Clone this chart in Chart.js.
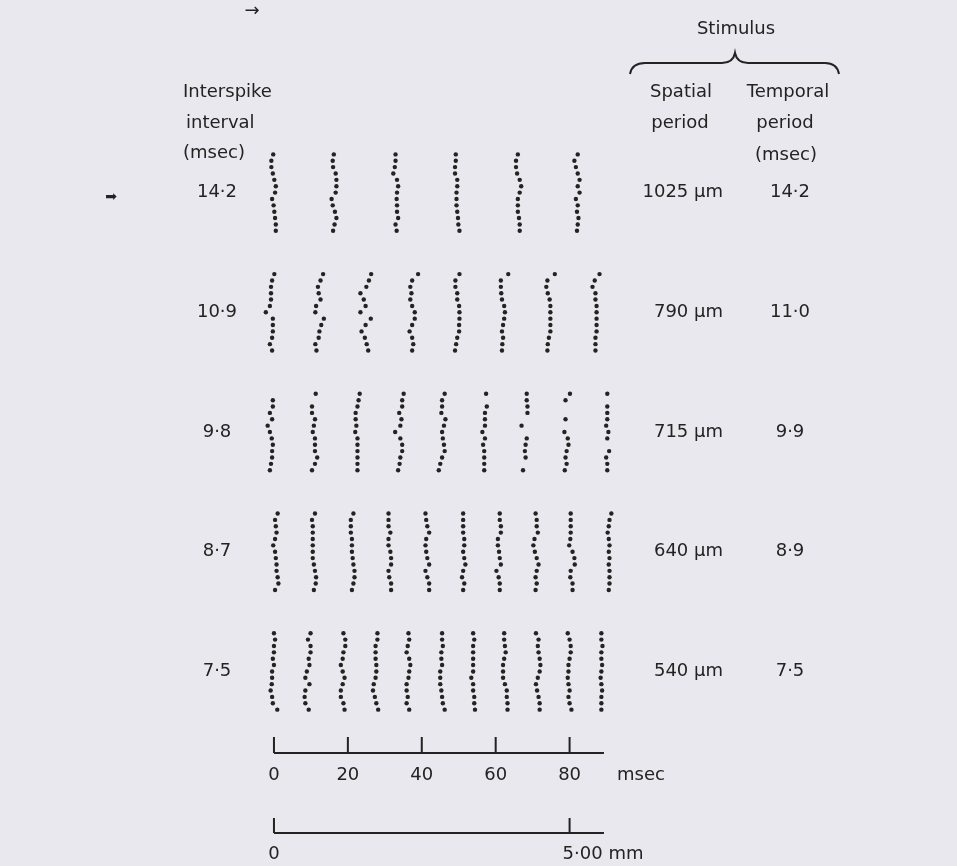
<!DOCTYPE html>
<html>
<head>
<meta charset="utf-8">
<title>Interspike interval raster</title>
<script src="https://cdn.jsdelivr.net/npm/chart.js@4/dist/chart.umd.min.js"></script>
<style>
    html, body { margin: 0; padding: 0; background: #e8e8ee; }
    #rasterChart { display: block; }
</style>
</head>
<body>
<canvas id="rasterChart" width="957" height="866"></canvas>
<script>
// Row labels (interspike interval, msec) and stimulus columns
const intervals = ['14·2', '10·9', '9·8', '8·7', '7·5'];
const spatialPeriods = ['1025 µm', '790 µm', '715 µm', '640 µm', '540 µm'];
const temporalPeriods = ['14·2', '11·0', '9·9', '8·9', '7·5'];

// Time scale bars
const msecTicks = [0, 20, 40, 60, 80];
const msecTickLabels = ['0', '20', '40', '60', '80'];
const mmTicks = [0, 80];
const mmTickLabels = ['0', '5·00 mm'];
const barEnd = 89.3;

// Spike columns: mean time (msec) of each burst column per row
const cols142 = [0.1, 16.2, 32.9, 49.6, 66.0, 82.2];
const cols109 = [-0.8, 12.1, 24.8, 37.4, 49.6, 62.0, 74.6, 87.3];
const cols98 = [-0.8, 10.8, 22.6, 34.2, 45.5, 57.1, 67.9, 79.2, 90.2];
const cols87 = [0.5, 10.8, 21.3, 31.0, 41.5, 51.2, 61.1, 71.1, 80.8, 90.8];
const cols75 = [0, 9.4, 18.6, 27.5, 36.4, 45.5, 53.9, 62.5, 71.4, 80.0, 88.6];

// Per-sweep jitter (msec) of each spike from its column time, 13 sweeps, null = no spike
const off142 = [
    [-0.3, -0.8, -0.8, -0.4, 0, 0.4, 0.2, -0.6, -0.2, 0, 0.2, 0.4, 0.4],
    [0, -0.3, -0.2, 0.5, 0.7, 0.7, 0.5, -0.6, -0.3, 0.3, 0.7, 0.2, -0.2],
    [0, 0, -0.2, -0.6, 0.4, 0.7, 0.4, 0.3, 0.4, 0.4, 0.7, 0, 0.3],
    [-0.4, -0.4, -0.6, -0.6, 0, 0, -0.2, -0.2, -0.2, 0, 0.2, 0.3, 0.6],
    [0, -0.5, -0.5, -0.2, 0.5, 0.9, 0.5, 0, 0, 0, 0.3, 0.5, 0.5],
    [0, -0.9, -0.5, 0, 0.5, 0, 0.5, -0.5, 0, -0.2, 0.2, 0, -0.2]
];
const off109 = [
    [0.9, 0.3, 0, 0, 0, -0.3, -1.4, 0.5, 0.5, 0.5, 0.3, -0.3, 0.3],
    [1.2, 0.5, -0.2, 0, 0.5, -0.7, -0.9, 1.4, 0.7, 0.2, 0, -0.9, -0.6],
    [1.5, 0.9, 0.2, -1.4, -0.5, 0, -1.4, 1.4, 0, -1.1, -0.2, 0.3, 0.7],
    [1.6, 0, -0.5, -0.2, -0.5, 0, 0.7, 0.7, 0, -0.7, 0, 0.3, 0],
    [0.6, -0.5, -0.5, 0, 0, 0.5, 0.6, 0.6, 0.5, 0.5, 0, -0.3, -0.6],
    [1.4, -0.6, -0.6, -0.5, -0.3, 0.3, 0.5, 0.3, 0, -0.3, 0, -0.2, -0.3],
    [1.4, -0.6, -0.9, -0.5, 0, 0.2, 0.2, 0.2, 0.2, 0.2, -0.2, -0.5, -0.6],
    [0.8, -0.5, -1.1, -0.3, -0.3, 0, 0, 0, 0, 0, -0.3, -0.3, -0.3]
];
const off98 = [
    [null, 0.5, 0.5, -0.3, 0.3, -0.9, -0.3, 0.2, 0.5, 0.3, 0.3, 0, -0.3],
    [0.5, null, -0.5, -0.5, 0.3, 0, -0.3, 0.3, 0.3, 0.3, 0.9, 0.3, -0.5],
    [0.6, 0.3, 0, -0.5, -0.5, -0.3, -0.6, 0, 0, 0, 0, 0, 0],
    [0.9, 0.5, 0.5, -0.3, 0.3, 0, -1.4, 0, 0.5, 0.5, 0, -0.2, -0.6],
    [0.7, 0, 0, -0.2, 0.9, 0.5, 0, 0.2, 0.5, 0.7, 0, -0.5, -0.9],
    [0.3, null, 0.5, 0, 0, 0, -0.7, 0, -0.5, -0.2, -0.2, -0.2, -0.2],
    [0.5, 0.5, 0.7, 0.7, null, -0.9, null, 0.5, 0.2, 0, 0.2, null, -0.5],
    [0.9, -0.3, null, null, -0.3, null, -0.6, 0.3, 0.5, 0, -0.3, 0, -0.5],
    [0, null, 0, 0, 0, -0.3, 0.3, 0, null, 0.5, -0.3, 0, 0]
];
const off87 = [
    [0.5, -0.2, 0, 0.2, -0.2, -0.7, -0.2, 0, 0.2, 0.2, 0.5, 0.7, -0.2],
    [0.3, -0.5, -0.3, -0.3, -0.3, -0.3, -0.3, -0.3, 0, 0.3, 0.6, 0.5, 0],
    [0.2, -0.5, -0.5, -0.5, -0.2, -0.2, -0.2, 0, 0.2, 0.5, 0.5, 0.2, -0.2],
    [0, 0, 0, 0.5, 0, 0, 0.5, 0.7, 0.7, 0, 0.2, 0.7, 0.7],
    [-0.5, -0.3, 0, 0.5, -0.3, -0.5, -0.3, 0, 0.5, -0.5, 0, 0.5, 0.5],
    [0, 0, 0, 0, 0.3, 0.3, 0, 0.3, 0.6, 0, -0.3, 0.3, 0],
    [0, 0, 0.3, 0.3, -0.5, -0.5, -0.2, 0, 0.3, -0.9, -0.3, 0, 0],
    [-0.3, 0, 0, 0.3, -0.6, -0.9, -0.5, 0, 0.5, 0, -0.3, 0, -0.3],
    [-0.5, -0.5, -0.5, -0.5, -0.6, -0.9, 0, 0.5, 0.6, -0.5, -0.6, 0, 0],
    [0.5, 0, -0.2, -0.5, -0.2, 0, -0.2, 0, -0.2, 0, 0, 0, -0.2]
];
const off75 = [
    [0, 0.3, 0, 0, -0.3, 0, -0.5, -0.5, -0.6, -0.9, -0.5, -0.3, 0.9],
    [0.5, -0.2, 0.5, 0.5, 0, 0.2, -0.5, -0.9, 0.2, -0.9, -1.1, -0.9, 0],
    [0.2, 0.7, 0.7, 0.2, 0, -0.5, 0, 0.5, 0, -0.5, -0.5, 0.2, 0.5],
    [0.5, 0.5, 0, 0, 0, 0.2, 0.2, 0, -0.5, -0.7, -0.2, 0.2, 0.7],
    [0, 0.2, -0.2, -0.5, 0.2, 0.5, 0.2, 0, -0.5, -0.5, -0.2, -0.5, 0.2],
    [0, 0, 0.2, -0.2, -0.2, 0, -0.5, -0.5, -0.5, -0.2, 0, 0.2, 0.7],
    [0, 0.3, 0, 0, 0, 0, 0, -0.5, 0, 0, 0.3, 0.3, 0.5],
    [-0.2, -0.2, 0, 0.2, -0.2, -0.5, -0.5, -0.5, 0, 0.5, 0.5, 0.7, 0.7],
    [-0.5, 0.2, 0, 0.2, 0.5, 0.7, 0.5, 0, -0.5, -0.2, 0.2, 0.5, 0.5],
    [-0.5, 0, 0.3, 0.3, 0, -0.3, -0.3, -0.5, -0.3, 0, -0.3, 0, 0.5],
    [0, 0, 0.3, 0, 0, 0.2, 0, -0.2, 0, 0.2, 0, 0, 0]
];

const ROW_STEP = 18.8;   // sweeps between the tops of two rows
const INK = '#232323';
const FONT = '"DejaVu Sans", sans-serif';

document.addEventListener('DOMContentLoaded', function() {
    initializeRaster();
});

// Turn one row's columns + jitter into scatter points (x = msec, y = sweep)
function buildRow(cols, offs, rowIndex) {
    const pts = [];
    cols.forEach((t, c) => {
        offs[c].forEach((d, s) => {
            if (d === null) return;
            pts.push({ x: t + d, y: rowIndex * ROW_STEP + s });
        });
    });
    return pts;
}

function text(ctx, str, x, y, align, size) {
    ctx.font = (size || 18) + 'px ' + FONT;
    ctx.textAlign = align || 'center';
    ctx.textBaseline = 'middle';
    ctx.fillText(str, x, y);
}

// Labels, stimulus header and scale bars
const annotations = {
    id: 'annotations',
    afterDatasetsDraw(chart) {
        const ctx = chart.ctx;
        const xs = chart.scales.x;
        const ys = chart.scales.y;
        ctx.save();
        ctx.fillStyle = INK;
        ctx.strokeStyle = INK;

        // left header
        text(ctx, 'Interspike', 183, 92, 'left');
        text(ctx, 'interval', 186, 123, 'left');
        text(ctx, '(msec)', 183, 153, 'left');

        // stimulus header with brace
        text(ctx, 'Stimulus', 736, 29, 'center');
        ctx.lineWidth = 2;
        ctx.beginPath();
        ctx.moveTo(630, 74);
        ctx.quadraticCurveTo(632, 63, 645, 63);
        ctx.lineTo(722, 63);
        ctx.quadraticCurveTo(733, 63, 735, 53);
        ctx.quadraticCurveTo(737, 63, 748, 63);
        ctx.lineTo(825, 63);
        ctx.quadraticCurveTo(837, 63, 839, 74);
        ctx.stroke();
        text(ctx, 'Spatial', 681, 92, 'center');
        text(ctx, 'period', 680, 123, 'center');
        text(ctx, 'Temporal', 788, 92, 'center');
        text(ctx, 'period', 785, 123, 'center');
        text(ctx, '(msec)', 786, 155, 'center');

        // row labels, centred on each row
        intervals.forEach((lab, r) => {
            const y = ys.getPixelForValue(r * ROW_STEP + 6);
            text(ctx, lab, 217, y, 'center');
            text(ctx, spatialPeriods[r], 723, y, 'right');
            text(ctx, temporalPeriods[r], 790, y, 'center');
        });

        // scan marks
        text(ctx, '➡', 111, 197, 'center', 14);
        text(ctx, '→', 252, 11, 'center', 18);

        // msec bar
        ctx.lineWidth = 2;
        ctx.beginPath();
        ctx.moveTo(xs.getPixelForValue(0), 753);
        ctx.lineTo(xs.getPixelForValue(barEnd), 753);
        msecTicks.forEach(t => {
            const px = xs.getPixelForValue(t);
            ctx.moveTo(px, 753);
            ctx.lineTo(px, 737);
        });
        ctx.stroke();
        msecTicks.forEach((t, i) => {
            text(ctx, msecTickLabels[i], xs.getPixelForValue(t), 775, 'center');
        });
        text(ctx, 'msec', 617, 775, 'left');

        // mm bar
        ctx.beginPath();
        ctx.moveTo(xs.getPixelForValue(0), 833);
        ctx.lineTo(xs.getPixelForValue(barEnd), 833);
        mmTicks.forEach(t => {
            const px = xs.getPixelForValue(t);
            ctx.moveTo(px, 833);
            ctx.lineTo(px, 818);
        });
        ctx.stroke();
        text(ctx, mmTickLabels[0], xs.getPixelForValue(mmTicks[0]), 854, 'center');
        text(ctx, mmTickLabels[1], xs.getPixelForValue(mmTicks[1]) - 7, 854, 'left');

        ctx.restore();
    }
};

function initializeRaster() {
    const rows = [
        [cols142, off142], [cols109, off109], [cols98, off98],
        [cols87, off87], [cols75, off75]
    ];
    const datasets = rows.map((r, i) => ({
        label: intervals[i],
        data: buildRow(r[0], r[1], i),
        pointRadius: 2.2,
        pointHoverRadius: 2.2,
        pointBackgroundColor: INK,
        pointBorderWidth: 0,
        showLine: false
    }));

    new Chart(document.getElementById('rasterChart'), {
        type: 'scatter',
        data: { datasets: datasets },
        options: {
            responsive: false,
            animation: false,
            layout: { padding: 0 },
            plugins: {
                legend: { display: false },
                tooltip: { enabled: false }
            },
            scales: {
                // 0 msec sits at x=273, 80 msec at x=570
                x: { type: 'linear', display: false, min: -73.54, max: 184.24 },
                // one sweep is ~6.4 px, first sweep at y=153
                y: { type: 'linear', display: false, reverse: true, min: -23.9, max: 111.41 }
            }
        },
        plugins: [annotations]
    });
}
</script>
</body>
</html>
